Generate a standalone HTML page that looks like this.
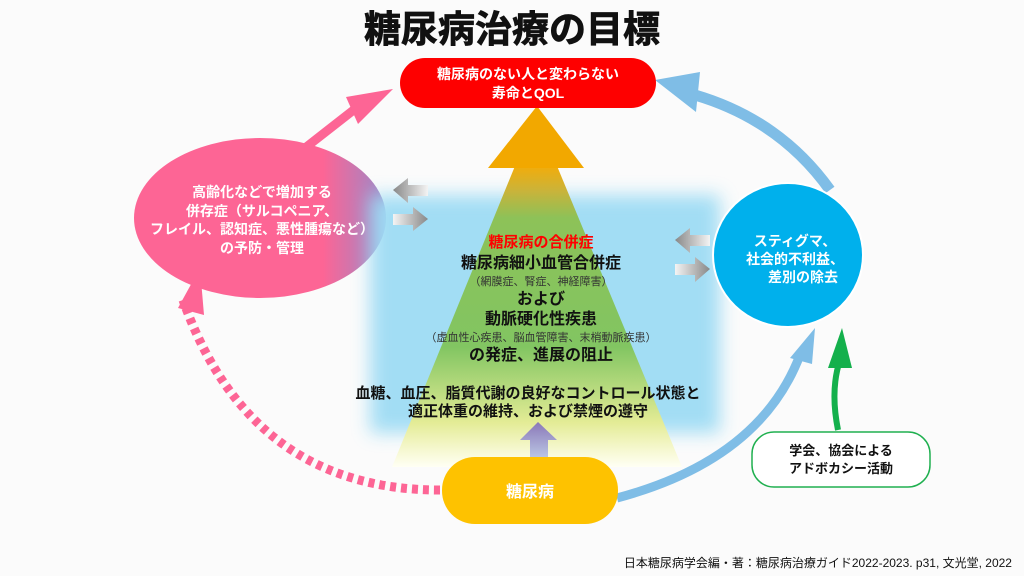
<!DOCTYPE html>
<html><head><meta charset="utf-8"><style>
html,body{margin:0;padding:0;background:#fbfbfb;}
svg{display:block}
text{font-family:"Liberation Sans","Noto Sans CJK JP",sans-serif;font-weight:bold;}
.n{font-weight:normal}
</style></head><body>
<svg width="1024" height="576" viewBox="0 0 1024 576" xmlns="http://www.w3.org/2000/svg">
<defs>
<filter id="blur" x="-20%" y="-20%" width="140%" height="140%"><feGaussianBlur stdDeviation="9"/></filter>
<linearGradient id="tri" gradientUnits="userSpaceOnUse" x1="0" y1="167" x2="0" y2="467">
<stop offset="0" stop-color="#f0a800"/><stop offset="0.08" stop-color="#c8b030"/><stop offset="0.17" stop-color="#8cc050"/><stop offset="0.6" stop-color="#80c45a"/><stop offset="0.85" stop-color="#e6ec90"/><stop offset="1" stop-color="#fffff4"/></linearGradient>
<linearGradient id="gl" x1="0" x2="1"><stop offset="0" stop-color="#888"/><stop offset="1" stop-color="#f4f4f4"/></linearGradient>
<linearGradient id="gr" x1="0" x2="1"><stop offset="0" stop-color="#f4f4f4"/><stop offset="1" stop-color="#888"/></linearGradient>
<linearGradient id="pu" x1="0" y1="0" x2="0" y2="1"><stop offset="0" stop-color="#8a78b8"/><stop offset="1" stop-color="#c8dcf0"/></linearGradient>
<linearGradient id="pk" x1="0" x2="1"><stop offset="0.75" stop-color="#fd6595"/><stop offset="1" stop-color="#9a88c8"/></linearGradient>
</defs>
<text x="512" y="42" font-size="37" text-anchor="middle" fill="#111" stroke="#111" stroke-width="0.8">糖尿病治療の目標</text>
<!-- pink straight arrow -->
<line x1="305" y1="148" x2="360" y2="105" stroke="#fd6595" stroke-width="9"/>
<polygon points="393,89 346,97 358,124" fill="#fd6595"/>
<!-- blue top-right arrow -->
<path d="M830 190 Q780 120 695 95" stroke="#7fbde6" stroke-width="11" fill="none"/>
<polygon points="655,80 700,72 696,112" fill="#7fbde6"/>
<path d="M440 490 Q250 490 183 300" stroke="#fd6595" stroke-width="9" fill="none" stroke-dasharray="6 5"/>
<polygon points="200,268 178,308 204,315" fill="#fd6595"/>
<path d="M617 498 Q760 460 800 355" stroke="#7fbde6" stroke-width="9" fill="none"/>
<polygon points="815,328 790,358 812,364" fill="#7fbde6"/>
<path d="M838 430 Q830 390 840 360" stroke="#14b04c" stroke-width="6" fill="none"/>
<polygon points="842,328 828,368 852,368" fill="#14b04c"/>
<ellipse cx="260" cy="218" rx="126" ry="80" fill="url(#pk)"/>
<rect x="370" y="195" width="350" height="238" fill="#9edcf4" filter="url(#blur)" opacity="0.95"/>
<polygon points="515,166 557,166 682,467 392,467" fill="url(#tri)" opacity="0.95"/>
<polygon points="537,106 488,168 584,168" fill="#f2a800"/>
<rect x="400" y="58" width="256" height="50" rx="25" fill="#fe0000"/>
<text x="528" y="79" font-size="14" text-anchor="middle" fill="#fff">糖尿病のない人と変わらない</text>
<text x="528" y="98" font-size="14" text-anchor="middle" fill="#fff">寿命とQOL</text>
<g font-size="14" fill="#fff" text-anchor="middle">
<text x="262" y="197">高齢化などで増加する</text>
<text x="262" y="216">併存症（サルコペニア、</text>
<text x="262" y="234">フレイル、認知症、悪性腫瘍など）</text>
<text x="262" y="253">の予防・管理</text>
</g>
<ellipse cx="788" cy="255" rx="75" ry="72" fill="#00b0ec" stroke="#fff" stroke-width="2"/>
<g font-size="14" fill="#fff" text-anchor="middle">
<text x="795" y="246">スティグマ、</text>
<text x="795" y="264">社会的不利益、</text>
<text x="803" y="282">差別の除去</text>
</g>
<polygon points="393,190 408,178 408,185 428,185 428,196 408,196 408,203" fill="url(#gl)"/>
<polygon points="428,219 413,207 413,214 393,214 393,225 413,225 413,231" fill="url(#gr)"/>
<polygon points="675,240 690,228 690,235 710,235 710,246 690,246 690,253" fill="url(#gl)"/>
<polygon points="710,269 695,257 695,264 675,264 675,275 695,275 695,282" fill="url(#gr)"/>
<g text-anchor="middle" fill="#111">
<text x="541" y="247" font-size="15" fill="#ff0000">糖尿病の合併症</text>
<text x="541" y="268" font-size="16">糖尿病細小血管合併症</text>
<text x="541" y="285" font-size="11" class="n" fill="#333">（網膜症、腎症、神経障害）</text>
<text x="541" y="304" font-size="16">および</text>
<text x="541" y="324" font-size="16">動脈硬化性疾患</text>
<text x="541" y="341" font-size="11" class="n" fill="#333">（虚血性心疾患、脳血管障害、末梢動脈疾患）</text>
<text x="541" y="360" font-size="16">の発症、進展の阻止</text>
<text x="528" y="398" font-size="15">血糖、血圧、脂質代謝の良好なコントロール状態と</text>
<text x="528" y="416" font-size="15">適正体重の維持、および禁煙の遵守</text>
</g>
<polygon points="538,422 520,440 530,440 530,468 548,468 548,440 557,440" fill="url(#pu)"/>
<rect x="442" y="457" width="176" height="67" rx="33" fill="#fec200"/>
<text x="530" y="497" font-size="16" text-anchor="middle" fill="#fff">糖尿病</text>
<rect x="752" y="432" width="178" height="55" rx="22" fill="#fff" stroke="#20b050" stroke-width="1.5"/>
<text x="841" y="455" font-size="13" text-anchor="middle" fill="#111">学会、協会による</text>
<text x="841" y="473" font-size="13" text-anchor="middle" fill="#111">アドボカシー活動</text>
<text x="1012" y="567" font-size="12" class="n" text-anchor="end" fill="#111">日本糖尿病学会編・著：糖尿病治療ガイド2022-2023. p31, 文光堂, 2022</text>
</svg>
</body></html>
